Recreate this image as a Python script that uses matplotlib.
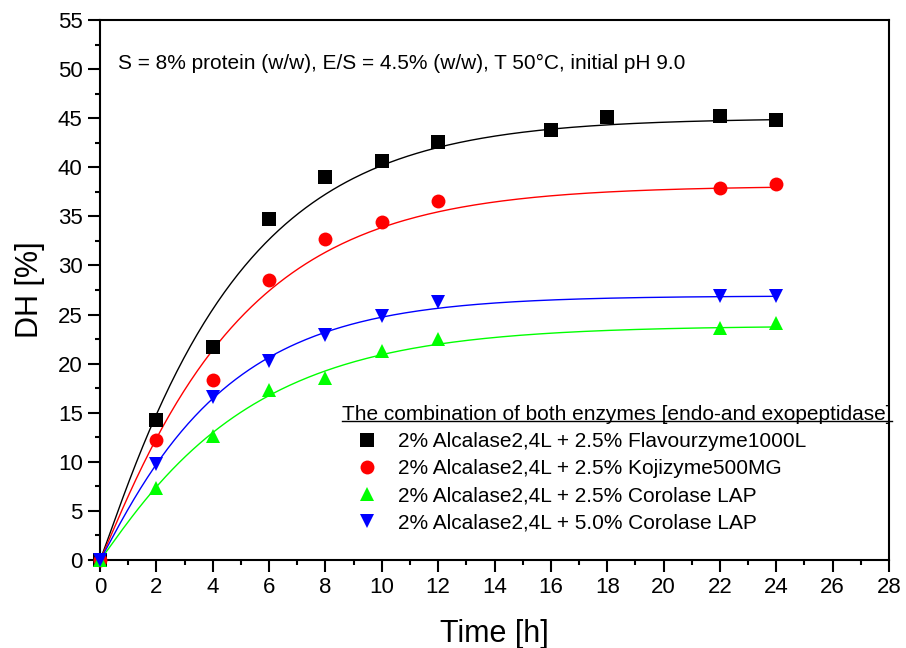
import numpy as np
import matplotlib
matplotlib.use("Agg")
import matplotlib.pyplot as plt
from matplotlib.lines import Line2D

plt.rcParams['font.family'] = ['Liberation Sans', 'DejaVu Sans']

# Degree of hydrolysis (%) versus time (h)
t_flav = [0, 2, 4, 6, 8, 10, 12, 16, 18, 22, 24]
dh_flav = [0, 14.3, 21.7, 34.7, 39.0, 40.6, 42.6, 43.8, 45.1, 45.2, 44.8]

t_koji = [0, 2, 4, 6, 8, 10, 12, 22, 24]
dh_koji = [0, 12.2, 18.3, 28.5, 32.7, 34.4, 36.6, 37.9, 38.3]

t_cor25 = [0, 2, 4, 6, 8, 10, 12, 22, 24]
dh_cor25 = [0, 7.3, 12.6, 17.3, 18.5, 21.3, 22.5, 23.6, 24.1]

t_cor50 = [0, 2, 4, 6, 8, 10, 12, 22, 24]
dh_cor50 = [0, 9.8, 16.6, 20.3, 22.9, 24.9, 26.3, 26.9, 26.9]

labels = [
    "2% Alcalase2,4L + 2.5% Flavourzyme1000L",
    "2% Alcalase2,4L + 2.5% Kojizyme500MG",
    "2% Alcalase2,4L + 2.5% Corolase LAP",
    "2% Alcalase2,4L + 5.0% Corolase LAP",
]
colors = ["#000000", "#FF0000", "#00FF00", "#0000FF"]
markers = ["s", "o", "^", "v"]

legend_title = "The combination of both enzymes [endo-and exopeptidase]"
conditions = "S = 8% protein (w/w), E/S = 4.5% (w/w), T 50°C, initial pH 9.0"

SHAPE = 1.07  # stretched-exponential shape of the hydrolysis model


def fit_hydrolysis(t, y):
    """DH = a * (1 - exp(-(k t)^SHAPE)); plateau a from the last two samples,
    rate k by least squares."""
    t = np.asarray(t, float)
    y = np.asarray(y, float)
    a = y[-2:].mean()
    ks = np.linspace(0.02, 0.8, 4000)
    sse = [np.sum((y - a * (1 - np.exp(-(k * t) ** SHAPE))) ** 2) for k in ks]
    return a, ks[int(np.argmin(sse))]


fig = plt.figure(figsize=(9.06, 6.48), dpi=100)
ax = fig.add_axes([100 / 906, 1 - 560 / 648, 789 / 906, 540 / 648])

series = [(t_flav, dh_flav), (t_koji, dh_koji), (t_cor25, dh_cor25), (t_cor50, dh_cor50)]
handles = []
for (t, y), c in zip(series, colors):
    a, k = fit_hydrolysis(t, y)
    tt = np.linspace(0, max(t), 300)
    ax.plot(tt, a * (1 - np.exp(-(k * tt) ** SHAPE)), color=c, lw=1.0, zorder=2)
for (t, y), c, m, lab in zip(series, colors, markers, labels):
    h, = ax.plot(t, y, linestyle="none", marker=m, color=c, markersize=10,
                 markeredgewidth=0, label=lab, zorder=3, clip_on=False)
    handles.append(h)

ax.set_xlim(0, 28)
ax.set_ylim(0, 55)
ax.set_xticks(np.arange(0, 29, 2))
ax.set_xticks(np.arange(1, 28, 2), minor=True)
ax.set_yticks(np.arange(0, 56, 5))
ax.set_yticks(np.arange(2.5, 55, 5), minor=True)
ax.tick_params(which="both", direction="out", top=False, right=False, width=1.5,
               labelsize=16, pad=4)
ax.tick_params(which="major", length=8.5)
ax.tick_params(which="minor", length=3.8)
for s in ax.spines.values():
    s.set_linewidth(1.5)

ax.set_xlabel("Time [h]", fontsize=22, labelpad=15)
ax.set_ylabel("DH [%]", fontsize=22, labelpad=9)

ax.text(0.64, 50.6, conditions, fontsize=15, va="center", ha="left")

leg = ax.legend(handles=handles, title=legend_title, fontsize=15, title_fontsize=15,
                alignment="left", frameon=False, loc="upper left",
                bbox_to_anchor=(342 / 906, 1 - 405 / 648), bbox_transform=fig.transFigure,
                borderaxespad=0, borderpad=0, handlelength=2.4, handletextpad=0.29,
                labelspacing=0.38, markerscale=1.0)
leg._legend_box.sep = 6

# underline the legend title
fig.canvas.draw()
bb = leg.get_title().get_window_extent()
inv = fig.transFigure.inverted()
(x0, y0), (x1, _) = inv.transform([(bb.x0, bb.y0 + 3), (bb.x1, bb.y0 + 3)])
fig.add_artist(Line2D([x0, x1], [y0, y0], color="black", lw=1.0))

fig.savefig("out.png", dpi=100)
